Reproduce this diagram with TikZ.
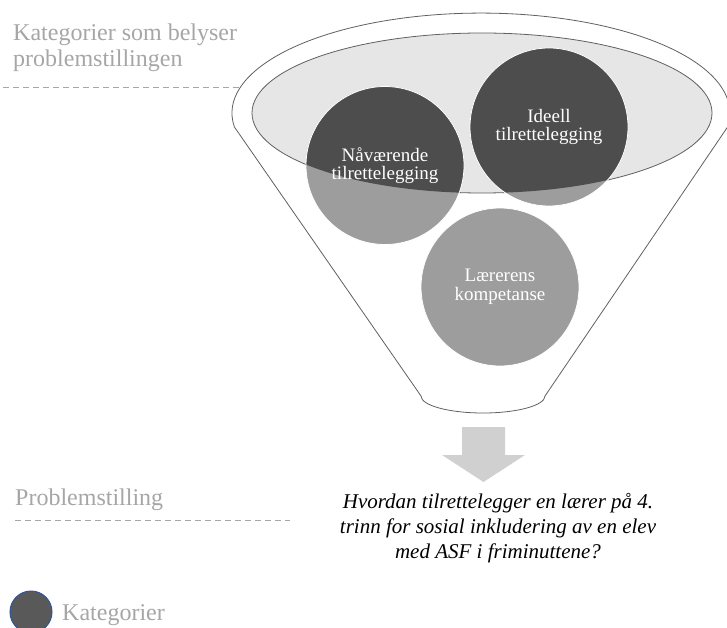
\documentclass[tikz,border=0pt]{standalone}
\usepackage{fontspec}
\setmainfont{Liberation Serif}
\usetikzlibrary{shapes.geometric}
\definecolor{labelgray}{HTML}{A6A6A6}
\definecolor{linegray}{HTML}{606060}
\definecolor{ellgray}{HTML}{E6E6E6}
\definecolor{darkc}{HTML}{4D4D4D}
\definecolor{lightc}{HTML}{9D9D9D}
\definecolor{arrowgray}{HTML}{D0D0D0}
\definecolor{catgray}{HTML}{595959}
\definecolor{legendblue}{HTML}{2F5597}
\begin{document}
\begin{tikzpicture}[x=1pt,y=-1pt,
  lbl/.style={text=labelgray, font=\fontsize{24}{26}\selectfont, inner sep=0pt, align=left},
  guide/.style={draw=labelgray, line width=0.9pt, dash pattern=on 6pt off 4pt},
  cat/.style={circle, minimum size=158pt, inner sep=0pt, draw=white, line width=0.8pt, text=white, align=center, font=\fontsize{19}{18.5}\selectfont},
]
\useasboundingbox (0,0) rectangle (727,628);
% guide lines
\coordinate (g1a) at (3,87);
\coordinate (g1b) at (241,87);
\draw[guide] (g1a) -- (g1b);
\coordinate (g2a) at (15,520);
\coordinate (g2b) at (290,520);
\draw[guide] (g2a) -- (g2b);
% funnel
\coordinate (fl) at (234.4,127);
\draw[draw=linegray, fill=white, line width=0.8pt] (fl) arc[start angle=172, end angle=368, x radius=249, y radius=100] -- (545,396) arc[start angle=0, end angle=180, x radius=62, y radius=17] -- cycle;
% bowl
\node[ellipse, minimum width=460pt, minimum height=160pt, inner sep=0pt, draw=linegray, fill=ellgray, line width=0.8pt] (bowl) at (482,113) {};
% circle centres
\coordinate (p1) at (385,165.5);
\coordinate (p2) at (549,127);
\coordinate (p3) at (500,287);
\fill[lightc] (p1) circle[radius=79] (p2) circle[radius=79] (p3) circle[radius=79];
\begin{scope}
\clip (482,113) ellipse[x radius=230, y radius=80];
\fill[darkc] (p1) circle[radius=79] (p2) circle[radius=79] (p3) circle[radius=79];
\end{scope}
\node[cat] (c1) at (p1) {Nåværende\\tilrettelegging};
\node[cat] (c2) at (p2) {Ideell\\tilrettelegging};
\node[cat] (c3) at (p3) {Lærerens\\kompetanse};
% arrow
\fill[arrowgray] (462,427) -- (505,427) -- (505,455) -- (525,455) -- (483.5,482) -- (442,455) -- (462,455) -- cycle;
% labels
\node[lbl, anchor=base west] (t1) at (13,67) {Kategorier som belyser\\problemstillingen};
\node[lbl, anchor=base west] (t2) at (15,505) {Problemstilling};
\node[align=center, inner sep=0pt, anchor=base, font=\itshape\fontsize{21}{25}\selectfont] (q) at (498,558) {Hvordan tilrettelegger en lærer på 4.\\trinn for sosial inkludering av en elev\\med ASF i friminuttene?};
% legend
\node[circle, fill=catgray, draw=legendblue, line width=1pt, minimum size=42pt, inner sep=0pt] (leg) at (31,612) {};
\node[lbl, anchor=base west] (legt) at (62,620) {Kategorier};
\end{tikzpicture}
\end{document}
